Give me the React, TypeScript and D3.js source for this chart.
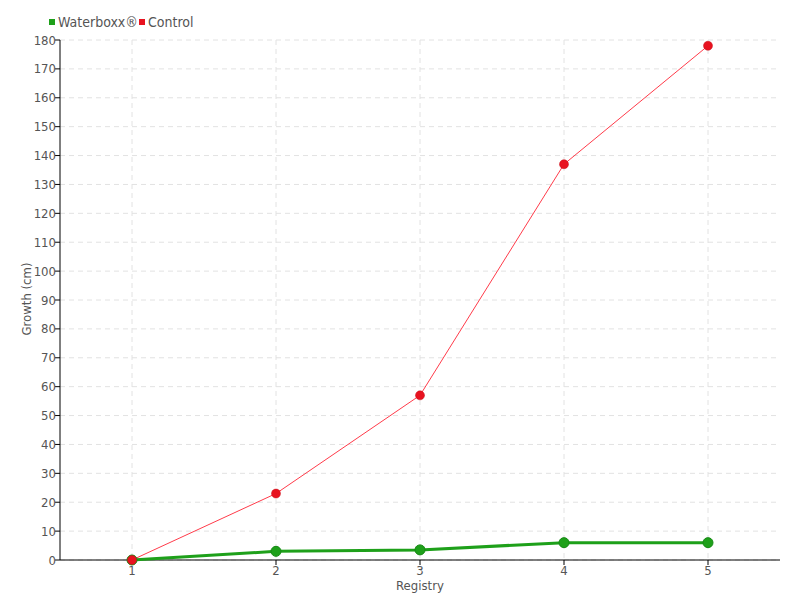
import React from "react";
import * as d3 from "d3";

const registries = [1, 2, 3, 4, 5];
const waterboxx = [0, 3, 3.5, 6, 6];
const control = [0, 23, 57, 137, 178];
const yTicks = d3.range(0, 181, 10);
const seriesNames = ["Waterboxx®", "Control"];

const W = 800, H = 600;
const left = 60, right = 780, top = 40, bottom = 560;
const FONT = "'DejaVu Sans Condensed', 'DejaVu Sans', sans-serif";

export default function App() {
  const x = d3.scaleLinear().domain([0.5, 5.5]).range([left, right]);
  const y = d3.scaleLinear().domain([0, 180]).range([bottom, top]);
  const line = d3.line<number>().x((_, i) => x(registries[i])).y((d) => y(d));
  const txt = "#555";
  const fs = 13;
  return (
    <svg width={W} height={H} style={{ position: "absolute", left: 0, top: 0, fontStretch: "condensed" }} fontFamily={FONT}>
      <rect width={W} height={H} fill="#fff" />
      {yTicks.map((t) => (
        <line key={"gy" + t} x1={left} x2={right} y1={y(t)} y2={y(t)} stroke="#e2e2e2" strokeDasharray="5,4" />
      ))}
      {registries.map((r) => (
        <line key={"gx" + r} x1={x(r)} x2={x(r)} y1={top} y2={bottom} stroke="#e2e2e2" strokeDasharray="5,4" />
      ))}
      <line x1={left} x2={left} y1={top} y2={bottom} stroke="#000" />
      <line x1={left} x2={right} y1={bottom} y2={bottom} stroke="#000" />
      {yTicks.map((t) => (
        <g key={"ty" + t}>
          <line x1={left - 5} x2={left} y1={y(t)} y2={y(t)} stroke="#000" />
          <text x={left - 4} y={y(t)} dy="0.35em" textAnchor="end" fontSize={fs} fill={txt}>{t}</text>
        </g>
      ))}
      {registries.map((r) => (
        <g key={"tx" + r}>
          <line x1={x(r)} x2={x(r)} y1={bottom} y2={bottom + 5} stroke="#000" />
          <text x={x(r)} y={bottom + 15} textAnchor="middle" fontSize={fs} fill={txt}>{r}</text>
        </g>
      ))}
      <text x={420} y={590} textAnchor="middle" fontSize={fs} fill={txt}>Registry</text>
      <text transform={`translate(31,${299}) rotate(-90)`} textAnchor="middle" fontSize={fs} fill={txt}>Growth (cm)</text>

      <path d={line(control) || ""} fill="none" stroke="#ff3b4a" strokeWidth={1} />
      <path d={line(waterboxx) || ""} fill="none" stroke="#1ea01a" strokeWidth={3} />
      {waterboxx.map((v, i) => (
        <circle key={"wb" + i} cx={x(registries[i])} cy={y(v)} r={5} fill="#1ea01a" stroke="#168a14" strokeWidth={1} />
      ))}
      {control.map((v, i) => (
        <circle key={"c" + i} cx={x(registries[i])} cy={y(v)} r={4.5} fill="#e8121f" stroke="#c8101b" strokeWidth={0.5} />
      ))}

      <rect x={49} y={19} width={6} height={6} fill="#1ea01a" />
      <text x={58} y={27} fontSize={14} fill={txt}>{seriesNames[0]}</text>
      <rect x={139} y={19} width={6} height={6} fill="#e8121f" />
      <text x={148} y={27} fontSize={14} fill={txt}>{seriesNames[1]}</text>
    </svg>
  );
}
